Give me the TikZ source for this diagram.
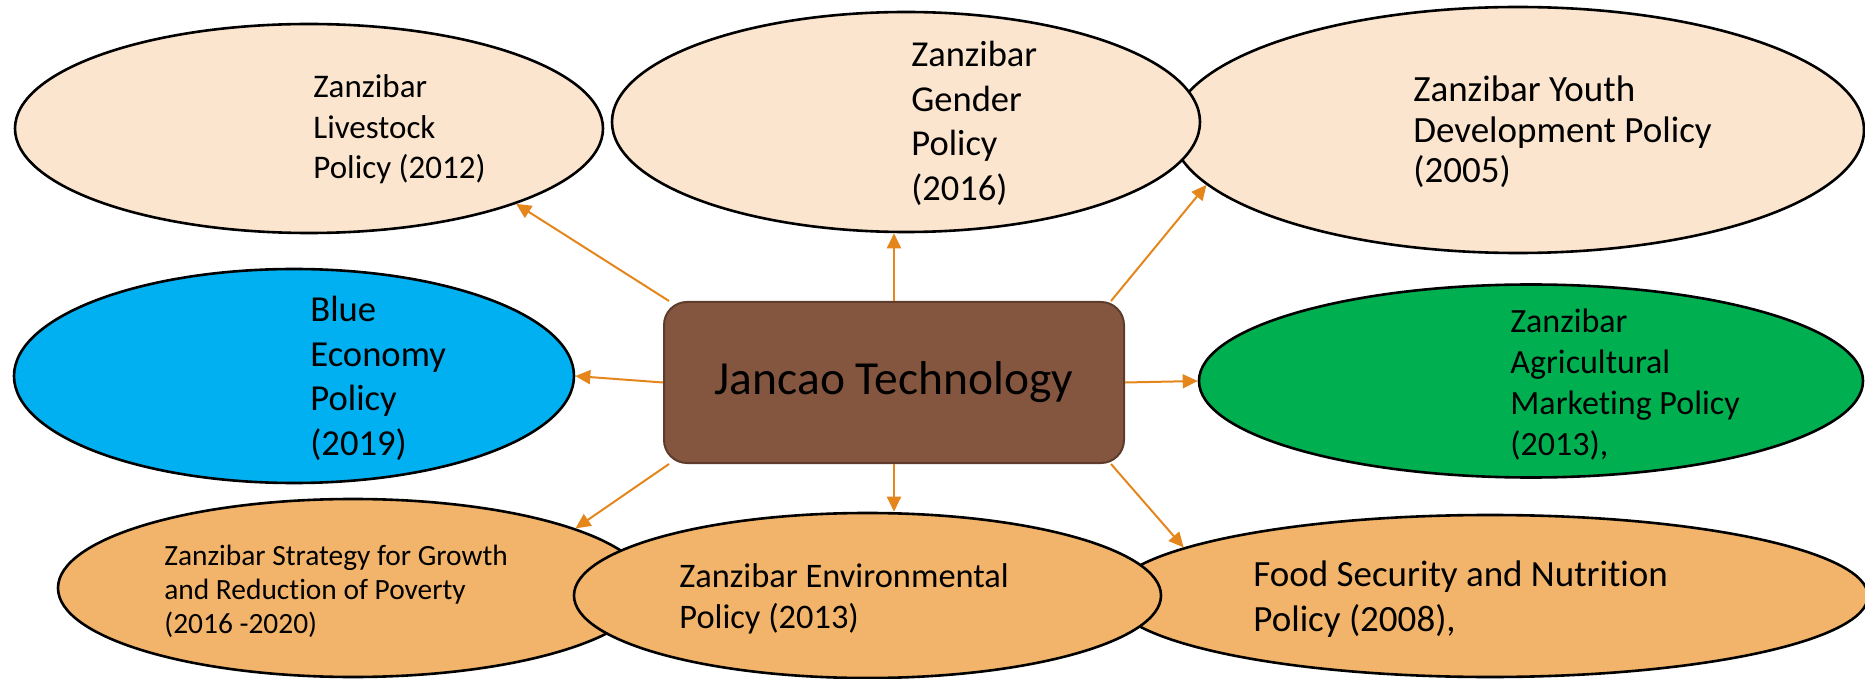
\documentclass[tikz,border=0pt]{standalone}
\usepackage{fontspec}
\setmainfont[Ligatures=NoCommon]{Carlito}
\usetikzlibrary{positioning,calc,arrows.meta,shapes.geometric}
\definecolor{peach}{RGB}{251,229,206}
\definecolor{skyblue}{RGB}{0,176,240}
\definecolor{leafgreen}{RGB}{0,176,80}
\definecolor{sand}{RGB}{242,180,106}
\definecolor{bark}{RGB}{132,86,64}
\definecolor{barkline}{RGB}{94,60,44}
\definecolor{linkorange}{RGB}{228,134,28}

\begin{document}
\begin{tikzpicture}[x=0.5pt, y=-0.5pt,
	policy/.style={ellipse, draw=black, line width=1.3pt, inner sep=0pt},
	txt/.style={anchor=base west, align=left, inner sep=0pt},
	link/.style={-{Triangle[length=7.5pt,width=7pt]}, linkorange, line width=1pt},
	hub/.style={draw=barkline, fill=bark, line width=1pt, rounded corners=11.5pt,
		minimum width=230pt, minimum height=80.5pt, inner sep=0pt,
		font=\fontsize{23.75}{28}\selectfont}]
	\useasboundingbox (0,0) rectangle (1865,679);

	% top row (text nodes sit on the baseline of their last line)
	\node[policy, fill=peach, minimum width=294pt, minimum height=104.5pt] (live) at (309,128.5) {};
	\node[policy, fill=peach, minimum width=346pt, minimum height=123pt] (youth) at (1518,130) {};
	\node[policy, fill=peach, minimum width=294pt, minimum height=110pt] (gend) at (906,122) {};
	\node[txt, font=\fontsize{16.5}{20.3}\selectfont] (livetxt) at (313,179) {Zanzibar\\Livestock\\Policy (2012)};
	\node[txt, font=\fontsize{18.25}{22.25}\selectfont] (gendtxt) at (911,200.5) {Zanzibar\\Gender\\Policy\\(2016)};
	\node[txt, font=\fontsize{18.5}{20.25}\selectfont] (youthtxt) at (1413,182.7) {Zanzibar Youth\\Development Policy\\(2005)};

	% middle row
	\node[policy, fill=skyblue, minimum width=280pt, minimum height=107pt] (blue) at (294,376) {};
	\node[policy, fill=leafgreen, minimum width=332pt, minimum height=96.5pt] (agri) at (1531,381) {};
	\node[txt, font=\fontsize{18.3}{22.2}\selectfont] (bluetxt) at (310,455) {Blue\\Economy\\Policy\\(2019)};
	\node[txt, font=\fontsize{17}{20.5}\selectfont] (agritxt) at (1510,455) {Zanzibar\\Agricultural\\Marketing Policy\\(2013),};

	% bottom row
	\node[policy, fill=sand, minimum width=295pt, minimum height=89pt] (strat) at (353,588) {};
	\node[policy, fill=sand, minimum width=378pt, minimum height=81pt] (food) at (1490,596) {};
	\node[policy, fill=sand, minimum width=293.5pt, minimum height=82.5pt] (env) at (867.5,595.5) {};
	\node[txt, font=\fontsize{14.7}{17}\selectfont] (strattxt) at (164,633) {Zanzibar Strategy for Growth\\and Reduction of Poverty\\(2016 -2020)};
	\node[txt, font=\fontsize{17.2}{20.5}\selectfont] (envtxt) at (679,628) {Zanzibar Environmental\\Policy (2013)};
	\node[txt, font=\fontsize{18.5}{22.5}\selectfont] (foodtxt) at (1253,631.7) {Food Security and Nutrition\\Policy (2008),};

	% centre
	\node[hub] (tech) at (894,382.5) {Jancao Technology};

	\draw[link] ([xshift=3pt]tech.north west) -- (live.-20);
	\draw[link] (tech.north) -- (tech.north |- gend.south);
	\draw[link] ([xshift=-7pt]tech.north east) -- (youth.190);
	\draw[link] (tech.west) -- (blue.east);
	\draw[link] (tech.east) -- (agri.west);
	\draw[link] ([xshift=3pt]tech.south west) -- (strat.15);
	\draw[link] (tech.south) -- (tech.south |- env.north);
	\draw[link] ([xshift=-7pt]tech.south east) -- (food.171);
\end{tikzpicture}
\end{document}
